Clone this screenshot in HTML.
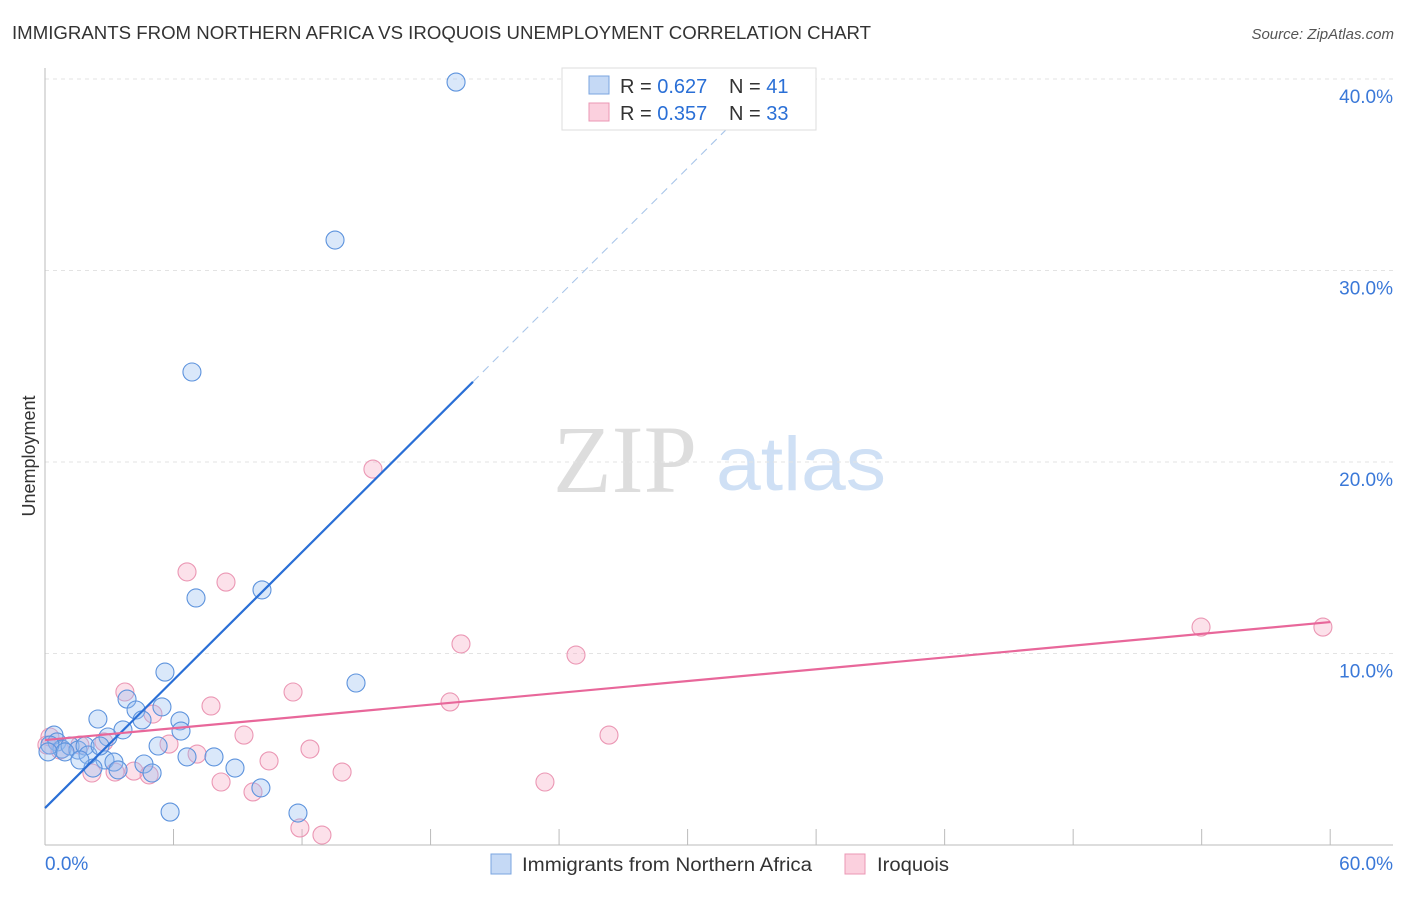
<!DOCTYPE html>
<html><head><meta charset="utf-8"><style>
body{margin:0;background:#fff;font-family:"Liberation Sans",sans-serif;}
</style></head><body>
<svg width="1406" height="892" xmlns="http://www.w3.org/2000/svg">
<text x="12" y="39" font-size="18" fill="#333" textLength="859" lengthAdjust="spacingAndGlyphs">IMMIGRANTS FROM NORTHERN AFRICA VS IROQUOIS UNEMPLOYMENT CORRELATION CHART</text>
<text x="1394" y="39" font-size="15" fill="#555" font-style="italic" text-anchor="end">Source: ZipAtlas.com</text>
<text x="35" y="456" font-size="18" fill="#333" transform="rotate(-90 35 456)" text-anchor="middle">Unemployment</text>
<text x="553" y="492" font-size="96" fill="#ddd" font-family="Liberation Serif,serif">ZIP</text>
<text x="716" y="490" font-size="76" fill="#cfe0f5" textLength="170" lengthAdjust="spacingAndGlyphs">atlas</text>
<g id="grid"></g><g id="axes"></g><g id="pts"></g><g id="lines"></g>
<g>
<rect x="562" y="68" width="254" height="62" fill="#fff" stroke="#ddd"/>
<rect x="589" y="76" width="20" height="18" fill="#c5d9f5" stroke="#7aa5e0"/>
<rect x="589" y="103" width="20" height="18" fill="#fbd0de" stroke="#eb97b4"/>
<text x="620" y="93" font-size="20" fill="#333">R = <tspan fill="#2a6fd6">0.627</tspan></text>
<text x="729" y="93" font-size="20" fill="#333">N = <tspan fill="#2a6fd6">41</tspan></text>
<text x="620" y="120" font-size="20" fill="#333">R = <tspan fill="#2a6fd6">0.357</tspan></text>
<text x="729" y="120" font-size="20" fill="#333">N = <tspan fill="#2a6fd6">33</tspan></text>
</g>
<g>
<rect x="491" y="854" width="20" height="20" fill="#c5d9f5" stroke="#7aa5e0"/>
<text x="522" y="871" font-size="19" fill="#333" textLength="290" lengthAdjust="spacingAndGlyphs">Immigrants from Northern Africa</text>
<rect x="845" y="854" width="20" height="20" fill="#fbd0de" stroke="#eb97b4"/>
<text x="877" y="871" font-size="19" fill="#333" textLength="72" lengthAdjust="spacingAndGlyphs">Iroquois</text>
</g>
</svg>
<script>
const blueX=[19.19,13.54,6.86,7.05,10.13,5.60,14.52,3.83,2.47,4.25,5.46,6.30,4.53,6.35,2.94,3.64,0.42,0.56,0.79,1.17,1.54,1.87,2.01,2.80,3.22,2.24,3.41,5.28,6.63,7.89,4.62,5.00,8.87,10.08,5.84,11.81,0.23,0.14,0.93,2.57,1.63];
const blueY=[39.84,31.59,24.70,12.90,13.32,9.03,8.46,7.62,6.58,7.05,7.21,6.48,6.53,5.95,5.64,6.01,5.74,5.38,5.01,5.17,4.96,5.17,4.70,4.44,4.33,4.02,3.92,5.17,4.60,4.60,4.23,3.76,4.02,2.98,1.72,1.67,5.22,4.86,4.86,5.17,4.44];
const pinkX=[15.31,6.63,8.45,19.42,24.79,53.97,59.66,3.73,11.58,7.75,18.91,5.04,26.33,9.29,5.79,12.37,7.10,10.46,4.15,2.19,3.27,8.22,4.86,13.87,23.34,9.71,11.90,12.93,0.23,0.09,1.63,2.75,0.70];
const pinkY=[19.63,14.26,13.73,10.50,9.92,11.38,11.38,7.99,7.99,7.26,7.47,6.84,5.74,5.74,5.27,5.01,4.75,4.39,3.86,3.76,3.81,3.29,3.66,3.81,3.29,2.77,0.89,0.52,5.64,5.22,5.22,5.38,4.96];
const yTicks=[10,20,30,40];
const yTickLabels=["10.0%","20.0%","30.0%","40.0%"];
const blueFit=[1.93,1.114];
const pinkFit=[5.48,0.1027];
const NS="http://www.w3.org/2000/svg";
const sx=v=>45+v*21.42, sy=v=>845-v*19.15;
function mk(t,a,p){const e=document.createElementNS(NS,t);for(const k in a)e.setAttribute(k,a[k]);document.getElementById(p).appendChild(e);return e;}
yTicks.forEach((t,i)=>{
 const l=mk('line',{x1:45,x2:1393,y1:sy(t),y2:sy(t),stroke:'#e3e3e3','stroke-dasharray':'4,4'},'grid');
 
 
 const tx=mk('text',{x:1393,y:sy(t)+24,'font-size':19,fill:'#3a78d8','text-anchor':'end'},'grid');
 tx.textContent=yTickLabels[i];
 
 
});
mk('line',{x1:45,x2:45,y1:68,y2:845,stroke:'#bbb'},'axes');
mk('line',{x1:45,x2:1393,y1:845,y2:845,stroke:'#bbb'},'axes');
for(let i=0;i<=10;i++){const t=mk('line',{x1:sx(i*6),x2:sx(i*6),y1:829,y2:845,stroke:'#bbb'},'axes');
 
 }
let a=mk('text',{x:45,y:870,'font-size':19,fill:'#3a78d8'},'axes');a.textContent='0.0%';


a=mk('text',{x:1393,y:870,'font-size':19,fill:'#3a78d8','text-anchor':'end'},'axes');a.textContent='60.0%';


pinkX.forEach((x,i)=>{const c=mk('circle',{cx:sx(x),cy:sy(pinkY[i]),r:9,fill:'rgba(246,170,196,0.35)',stroke:'#eb97b4','stroke-width':1.1},'pts');
 
 });
blueX.forEach((x,i)=>{const c=mk('circle',{cx:sx(x),cy:sy(blueY[i]),r:9,fill:'rgba(150,190,240,0.35)',stroke:'#5d93dd','stroke-width':1.1},'pts');
 
 });
let l=mk('line',{x1:sx(0),y1:sy(blueFit[0]),x2:sx(19.98),y2:sy(blueFit[0]+blueFit[1]*19.98),stroke:'#2a6fd6','stroke-width':2.2},'lines');


l=mk('line',{x1:sx(19.98),y1:sy(blueFit[0]+blueFit[1]*19.98),x2:sx(33.4),y2:sy(blueFit[0]+blueFit[1]*33.4),stroke:'#a9c6ea','stroke-width':1.1,'stroke-dasharray':'8,6'},'lines');


l=mk('line',{x1:sx(0),y1:sy(pinkFit[0]),x2:sx(60),y2:sy(pinkFit[0]+pinkFit[1]*60),stroke:'#e8679a','stroke-width':2.2},'lines');


</script>
</body></html>
